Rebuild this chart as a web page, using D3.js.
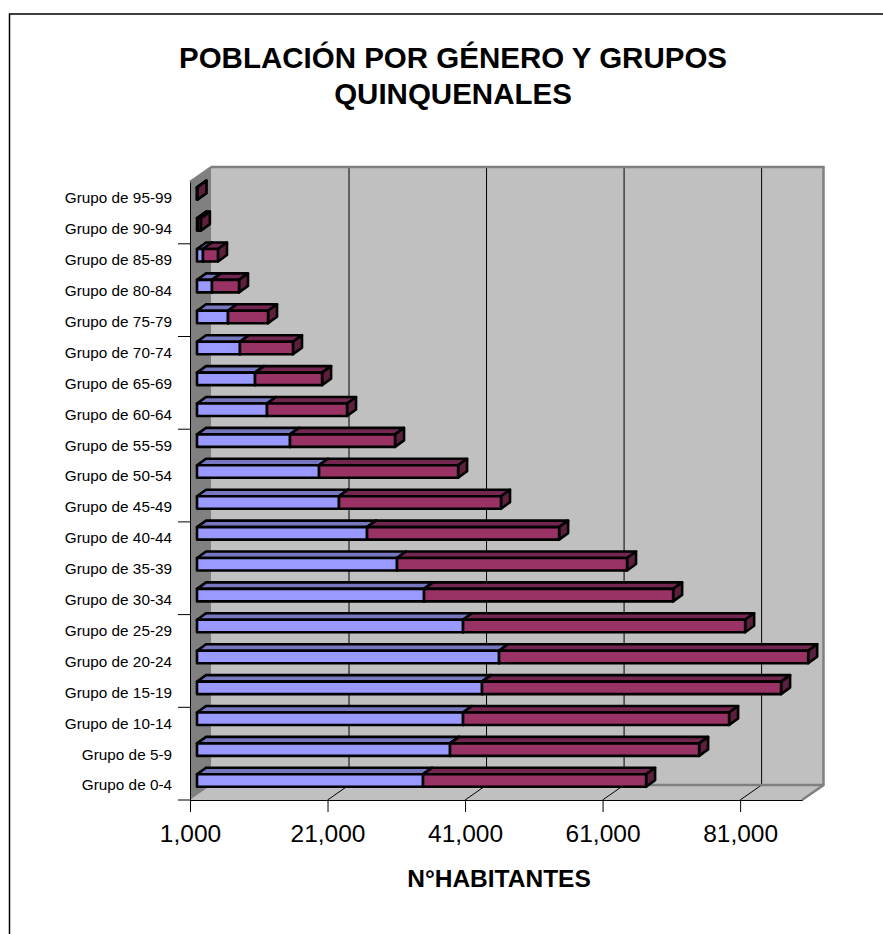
<!DOCTYPE html>
<html>
<head>
<meta charset="utf-8">
<script src="https://cdn.jsdelivr.net/npm/d3@7"></script>
<style>
  html, body { margin: 0; padding: 0; background: #fff; }
  svg { display: block; font-family: "Liberation Sans", Arial, sans-serif; }
</style>
</head>
<body>
<svg width="883" height="934"></svg>
<script>
// front to back, same order as the axis reads from the bottom up
const grupos = ["Grupo de 0-4", "Grupo de 5-9", "Grupo de 10-14", "Grupo de 15-19", "Grupo de 20-24",
    "Grupo de 25-29", "Grupo de 30-34", "Grupo de 35-39", "Grupo de 40-44", "Grupo de 45-49",
    "Grupo de 50-54", "Grupo de 55-59", "Grupo de 60-64", "Grupo de 65-69", "Grupo de 70-74",
    "Grupo de 75-79", "Grupo de 80-84", "Grupo de 85-89", "Grupo de 90-94", "Grupo de 95-99"];
const hombres = [33870, 37800, 39690, 42450, 44930, 39690, 34020, 30090, 25730, 21650,
    18750, 14530, 11180, 9440, 7250, 5510, 3180, 1870, 1150, 1010];
const mujeres = [32440, 36220, 38690, 43490, 44950, 41020, 36220, 33450, 27930, 23560,
    20220, 15270, 11640, 9750, 7710, 5820, 3930, 2180, 410, 60];
const xTicks = [1000, 21000, 41000, 61000, 81000];
const titulo = ["POBLACIÓN POR GÉNERO Y GRUPOS", "QUINQUENALES"];
const xTitulo = "N°HABITANTES";

const svg = d3.select("svg");

const left = 190, right = 802, top_ = 182, bottom = 800;
const wallDx = 21.5, wallDy = 15; // depth of the box
const gapDx = 7, gapDy = 4;       // bar front sits this far into the box
const barDx = 9, barDy = 6.5;     // depth of the bar itself
const barH = 12.5;

const x = d3.scaleLinear().domain([1000, 90000]).range([left, right]);
const y = d3.scaleBand().domain(grupos.slice().reverse()).range([top_, bottom]);

const filas = grupos.map((g, i) => ({ grupo: g, hombres: hombres[i], mujeres: mujeres[i] }));
const stack = d3.stack().keys(["hombres", "mujeres"])(filas);
// the axis starts at 1,000, so the first segment starts there and not at zero
stack[0].forEach(p => { p[0] = x.domain()[0]; });

const poly = pts => "M" + pts.map(p => p.join(",")).join("L") + "Z";

// outer frame, only top and left reach the picture
svg.append("path")
    .attr("d", "M9.5,934V14H883")
    .attr("fill", "none").attr("stroke", "#000").attr("stroke-width", 1.5);

svg.append("g").selectAll("text").data(titulo).join("text")
    .attr("x", 453)
    .attr("y", (d, i) => 68 + i * 36)
    .attr("text-anchor", "middle")
    .attr("font-weight", "bold")
    .attr("font-size", 29.5)
    .text(d => d);

// box: floor, left wall, back wall
const box = svg.append("g");
box.append("path")
    .attr("d", poly([[left, bottom], [right, bottom], [right + wallDx, bottom - wallDy], [left + wallDx, bottom - wallDy]]))
    .attr("fill", "#c0c0c0");
box.append("path")
    .attr("d", poly([[left, top_], [left + wallDx, top_ - wallDy], [left + wallDx, bottom - wallDy], [left, bottom]]))
    .attr("fill", "#808080");
box.append("rect")
    .attr("x", left + wallDx).attr("y", top_ - wallDy)
    .attr("width", right - left).attr("height", bottom - top_)
    .attr("fill", "#c0c0c0");

// gridlines on the back wall and their run across the floor
const gridX = xTicks.slice(1);
box.append("g").selectAll("path").data(gridX).join("path")
    .attr("d", d => `M${x(d)},${bottom}L${x(d) + wallDx},${bottom - wallDy}V${top_ - wallDy}`)
    .attr("fill", "none").attr("stroke", "#000").attr("stroke-width", 1);

// grey edges of the box
box.append("path")
    .attr("d", `M${left},${top_}L${left + wallDx},${top_ - wallDy}H${right + wallDx}V${bottom - wallDy}L${right},${bottom}`)
    .attr("fill", "none").attr("stroke", "#808080").attr("stroke-width", 2.5);
box.append("path")
    .attr("d", `M${left + wallDx},${bottom - wallDy}H${right + wallDx}`)
    .attr("fill", "none").attr("stroke", "#808080").attr("stroke-width", 2.5);

// axes
const xAxis = d3.axisBottom(x).tickValues(xTicks).tickFormat(d3.format(",")).tickSize(12).tickPadding(13).tickSizeOuter(0);
const gx = svg.append("g").attr("transform", `translate(0,${bottom})`).call(xAxis);
gx.selectAll("text").attr("font-size", 24.5).attr("font-family", "inherit").attr("fill", "#000");
gx.selectAll("line").attr("stroke", "#000");
gx.select(".domain").attr("stroke", "#000").attr("stroke-width", 1);

const yAxis = d3.axisLeft(y).tickSize(0).tickPadding(18);
const gy = svg.append("g").attr("transform", `translate(${left},1)`).call(yAxis);
gy.selectAll("text").attr("font-size", 15.3).attr("font-family", "inherit").attr("fill", "#000");
gy.select(".domain").attr("transform", "translate(0,-1)").attr("stroke", "#000").attr("stroke-width", 1);

// tick marks only every third category boundary
svg.append("g").selectAll("line").data(grupos.filter((g, i) => i % 3 === 0)).join("line")
    .attr("x1", left - 12).attr("x2", left)
    .attr("y1", d => y(d) + y.step()).attr("y2", d => y(d) + y.step())
    .attr("stroke", "#000");

svg.append("text")
    .attr("x", 499).attr("y", 887)
    .attr("text-anchor", "middle")
    .attr("font-weight", "bold")
    .attr("font-size", 24.5)
    .text(xTitulo);

// bars
const colores = {
    hombres: { front: "#9999ff", top: "#7777bf", side: "#5c5c99" },
    mujeres: { front: "#993366", top: "#732650", side: "#5c1f3d" }
};
const barras = svg.append("g").attr("stroke", "#000").attr("stroke-width", 2.6).attr("stroke-linejoin", "round");
stack.forEach(serie => {
    const c = colores[serie.key];
    const g = barras.append("g");
    const yF = d => y(d.data.grupo) + y.bandwidth() / 2 - gapDy - barH / 2;
    const x0 = d => x(d[0]) + gapDx;
    const x1 = d => x(d[1]) + gapDx;
    g.selectAll(".top").data(serie).join("path").attr("class", "top")
        .attr("fill", c.top)
        .attr("d", d => poly([[x0(d), yF(d)], [x1(d), yF(d)], [x1(d) + barDx, yF(d) - barDy], [x0(d) + barDx, yF(d) - barDy]]));
    g.selectAll(".side").data(serie).join("path").attr("class", "side")
        .attr("fill", c.side)
        .attr("d", d => poly([[x1(d), yF(d)], [x1(d) + barDx, yF(d) - barDy], [x1(d) + barDx, yF(d) - barDy + barH], [x1(d), yF(d) + barH]]));
    g.selectAll(".front").data(serie).join("path").attr("class", "front")
        .attr("fill", c.front)
        .attr("d", d => poly([[x0(d), yF(d)], [x1(d), yF(d)], [x1(d), yF(d) + barH], [x0(d), yF(d) + barH]]));
});
</script>
</body>
</html>
